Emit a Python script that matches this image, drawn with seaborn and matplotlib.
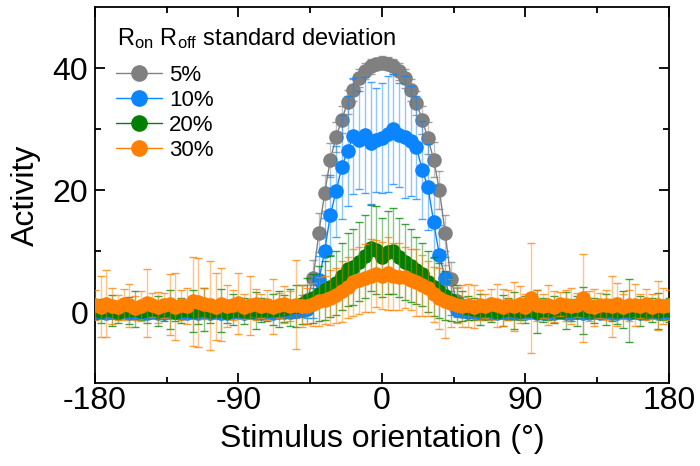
import numpy as np
import matplotlib
matplotlib.use("Agg")
import matplotlib.pyplot as plt
import seaborn as sns
from matplotlib.lines import Line2D

# Orientaciones del estímulo (101 puntos, paso de 3.6 grados)
orientacion = np.linspace(-180, 180, 101)

# Actividad media y desviación (filas de 10 puntos)
act_5 = [0.2, 0.3, 0.2, 0.1, 0.3, 0.2, 0.2, 0.4, 0.2, 0.1,
         0.3, 0.2, 0.2, 0.3, 0.1, 0.2, 0.4, 0.2, 0.3, 0.2,
         0.1, 0.2, 0.3, 0.2, 0.2, 0.4, 0.3, 0.2, 0.1, 0.3,
         0.2, 0.3, 0.3, 0.4, 0.5, 0.6, 1.0, 2.0, 5.6, 13.0,
         19.5, 25.0, 28.7, 31.5, 34.4, 36.4, 38.4, 39.5, 40.3, 40.7,
         40.9, 40.7, 40.3, 39.5, 38.3, 36.4, 34.3, 31.5, 28.5, 25.0,
         20.0, 13.0, 5.5, 1.8, 0.9, 0.6, 0.4, 0.3, 0.2, 0.3,
         0.2, 0.1, 0.3, 0.2, 0.2, 0.3, 0.2, 0.1, 0.2, 0.3,
         0.2, 0.2, 0.4, 0.2, 0.1, 0.3, 0.2, 0.2, 0.3, 0.2,
         0.1, 0.2, 0.3, 0.2, 0.2, 0.1, 0.3, 0.2, 0.2, 0.3,
         0.2]
err_5 = [0.8, 0.6, 0.9, 0.7, 0.8, 1.0, 0.6, 0.9, 0.7, 0.8,
         0.7, 0.9, 0.6, 0.8, 1.0, 0.7, 0.8, 0.6, 0.9, 0.7,
         0.8, 0.6, 0.9, 0.7, 1.0, 0.8, 0.7, 0.9, 0.6, 0.8,
         0.9, 0.7, 1.0, 0.8, 1.2, 1.5, 1.8, 2.5, 3.0, 3.2,
         3.0, 2.8, 2.5, 2.2, 2.0, 1.8, 1.5, 1.3, 1.2, 1.0,
         1.0, 1.1, 1.2, 1.4, 1.6, 1.8, 2.0, 2.3, 2.6, 2.9,
         3.1, 3.0, 2.8, 2.2, 1.6, 1.2, 1.0, 0.8, 0.9, 0.7,
         0.8, 0.6, 0.9, 0.7, 0.8, 1.0, 0.6, 0.9, 0.7, 0.8,
         0.7, 0.9, 0.6, 0.8, 1.0, 0.7, 0.8, 0.6, 0.9, 0.7,
         0.8, 0.6, 0.9, 0.7, 1.0, 0.8, 0.7, 0.9, 0.6, 0.8,
         0.7]

act_10 = [-0.1, 0.0, -0.2, 0.1, -0.1, 0.0, -0.2, -0.1, 0.0, -0.1,
          0.0, -0.2, -0.1, 0.1, 0.0, -0.1, -0.2, 0.0, -0.1, 0.0,
          -0.1, 0.0, -0.2, -0.1, 0.1, 0.0, -0.1, 0.0, -0.2, -0.1,
          0.0, -0.1, 0.0, 0.1, 0.1, 0.2, 0.3, 0.5, 1.5, 5.2,
          10.0, 15.9, 19.8, 23.8, 26.4, 28.9, 28.2, 29.0, 27.7, 28.2,
          28.5, 29.2, 30.0, 29.0, 28.7, 28.0, 27.0, 23.3, 20.5, 14.8,
          9.3, 5.6, 1.5, 0.4, 0.2, 0.1, 0.0, -0.1, 0.0, -0.2,
          -0.1, 0.0, -0.1, -0.2, 0.0, -0.1, 0.0, -0.2, -0.1, 0.0,
          -0.1, 0.0, -0.2, -0.1, 0.0, -0.1, -0.2, 0.0, -0.1, 0.0,
          -0.2, -0.1, 0.0, -0.1, 0.0, -0.2, -0.1, 0.0, -0.1, 0.0,
          -0.1]
err_10 = [0.6, 0.8, 0.5, 0.7, 0.9, 0.6, 0.8, 0.5, 0.7, 0.6,
          0.8, 0.5, 0.7, 0.9, 0.6, 0.8, 0.5, 0.7, 0.6, 0.8,
          0.5, 0.7, 0.9, 0.6, 0.8, 0.5, 0.7, 0.6, 0.8, 0.5,
          0.7, 0.6, 0.8, 0.9, 1.0, 0.8, 1.0, 1.5, 2.5, 4.0,
          5.5, 6.5, 7.5, 8.5, 9.0, 9.5, 8.0, 9.5, 10.0, 8.5,
          9.0, 9.5, 9.0, 8.5, 10.0, 9.0, 8.5, 8.0, 7.0, 6.0,
          5.0, 3.5, 2.0, 1.2, 0.8, 0.7, 0.6, 0.8, 0.5, 0.7,
          0.6, 0.8, 0.5, 0.7, 0.9, 0.6, 0.8, 0.5, 0.7, 0.6,
          0.8, 0.5, 0.7, 0.9, 0.6, 0.8, 0.5, 0.7, 0.6, 0.8,
          0.5, 0.7, 0.9, 0.6, 0.8, 0.5, 0.7, 0.6, 0.8, 0.5,
          0.7]

act_20 = [0.4, 0.2, 0.5, 0.3, 0.1, 0.4, 0.3, 0.5, 0.2, 0.3,
          0.4, 0.2, 0.3, 0.5, 0.1, 0.3, 0.4, 0.2, 0.3, 0.5,
          0.2, 0.4, 0.3, 0.1, 0.4, 0.3, 0.2, 0.5, 0.3, 0.4,
          0.3, 0.4, 0.5, 0.6, 0.8, 1.0, 1.3, 1.8, 2.3, 3.0,
          3.6, 4.2, 4.8, 5.9, 7.0, 7.4, 8.3, 9.2, 10.5, 10.2,
          9.0, 9.8, 10.0, 9.0, 8.2, 7.6, 6.9, 6.2, 5.0, 4.2,
          3.5, 2.7, 2.0, 1.4, 1.0, 0.7, 0.5, 0.4, 0.3, 0.4,
          0.2, 0.3, 0.5, 0.3, 0.2, 0.4, 0.3, 0.1, 0.4, 0.3,
          0.5, 0.2, 0.3, 0.4, 0.2, 0.3, 0.5, 0.3, 0.2, 0.4,
          0.3, 0.2, 0.4, 0.3, 0.5, 0.2, 0.3, 0.4, 0.2, 0.3,
          0.4]
err_20 = [1.5, 2.0, 1.2, 2.5, 1.8, 1.0, 2.2, 3.0, 1.5, 2.0,
          1.2, 2.5, 1.8, 3.2, 1.5, 2.0, 1.0, 3.5, 2.2, 3.5,
          2.0, 1.2, 3.5, 1.8, 2.5, 1.0, 2.2, 1.5, 3.0, 2.0,
          1.8, 2.5, 3.0, 2.2, 3.0, 3.5, 3.2, 3.8, 4.0, 4.5,
          4.8, 5.0, 5.2, 5.5, 6.0, 6.2, 6.5, 6.8, 7.0, 7.2,
          6.5, 6.8, 7.0, 6.5, 6.2, 6.0, 5.5, 5.2, 5.0, 4.8,
          4.5, 4.0, 3.5, 3.0, 2.5, 2.0, 1.8, 2.5, 1.5, 2.0,
          1.2, 2.5, 1.8, 3.0, 1.5, 2.2, 1.0, 3.5, 2.0, 1.5,
          2.2, 1.2, 3.0, 1.8, 2.5, 3.8, 1.5, 2.0, 1.0, 2.5,
          1.8, 2.2, 3.0, 5.2, 1.5, 2.5, 1.2, 2.0, 3.0, 1.5,
          2.0]

act_30 = [1.2, 0.9, 1.4, 1.0, 0.8, 1.3, 1.1, 0.7, 1.0, 1.5,
          1.2, 0.8, 1.1, 1.3, 0.9, 1.2, 1.0, 1.8, 1.6, 1.4,
          1.1, 0.9, 1.3, 1.0, 1.2, 1.5, 0.9, 1.1, 1.3, 1.0,
          1.2, 0.9, 1.1, 1.3, 1.0, 1.2, 1.0, 1.0, 1.3, 1.8,
          2.0, 2.4, 2.8, 3.4, 4.1, 4.9, 5.2, 5.6, 6.0, 6.3,
          6.0, 6.4, 5.9, 5.8, 5.7, 5.3, 4.9, 4.4, 3.9, 2.9,
          2.3, 1.8, 1.5, 1.2, 1.0, 1.1, 0.9, 1.2, 1.0, 1.3,
          1.1, 0.8, 1.2, 1.0, 1.3, 0.9, 2.3, 1.1, 1.0, 1.2,
          0.9, 1.3, 1.1, 1.0, 1.2, 2.3, 1.0, 0.8, 1.1, 1.2,
          1.0, 1.3, 0.9, 1.1, 1.2, 1.0, 1.3, 0.9, 1.1, 1.0,
          1.2]
err_30 = [2.5, 5.0, 5.5, 3.0, 2.0, 2.5, 3.5, 2.0, 2.5, 5.5,
          2.0, 2.5, 2.0, 5.0, 5.5, 2.5, 3.0, 7.3, 7.3, 2.5,
          7.3, 5.5, 6.0, 3.5, 2.5, 5.0, 2.0, 4.8, 2.5, 2.0,
          2.5, 4.5, 2.0, 3.0, 2.5, 7.3, 3.5, 3.0, 3.5, 4.0,
          4.0, 4.5, 4.5, 5.0, 5.0, 5.5, 5.5, 5.5, 6.0, 5.5,
          5.5, 6.0, 5.5, 5.5, 5.0, 5.0, 5.5, 5.0, 4.5, 4.5,
          5.0, 6.0, 4.0, 3.0, 3.5, 3.5, 3.5, 2.5, 2.0, 2.5,
          3.5, 3.0, 2.5, 4.0, 3.0, 2.0, 9.0, 2.5, 2.0, 3.3,
          2.5, 2.0, 2.5, 3.0, 2.0, 7.2, 2.5, 3.0, 2.0, 2.5,
          5.0, 3.5, 2.0, 2.5, 3.5, 2.0, 2.5, 2.0, 4.0, 3.0,
          2.5]

etiquetas = ["5%", "10%", "20%", "30%"]
colores = ["#808080", "#0A84FF", "#008000", "#FF8000"]
series = [(act_5, err_5), (act_10, err_10), (act_20, err_20), (act_30, err_30)]

sns.set_theme(style="ticks")
plt.rcParams["font.family"] = ["Liberation Sans", "DejaVu Sans"]
plt.rcParams["mathtext.fontset"] = "custom"
plt.rcParams["mathtext.rm"] = "Liberation Sans"
plt.rcParams["mathtext.it"] = "Liberation Sans:italic"
plt.rcParams["axes.unicode_minus"] = False
for clave in ["text.color", "axes.labelcolor", "xtick.color", "ytick.color",
              "axes.edgecolor"]:
    plt.rcParams[clave] = "black"

fig = plt.figure(figsize=(7, 4.66), dpi=100)
ax = fig.add_axes([95 / 700, 1 - 383 / 466, 574 / 700, 376 / 466])

z = 2
for (act, err), col in zip(series, colores):
    eb = ax.errorbar(orientacion, act, yerr=err, fmt="none", ecolor=col,
                     elinewidth=1, capsize=3, capthick=1, zorder=z)
    for c in eb[2]:
        c.set_alpha(0.45)
    for c in eb[1]:
        c.set_alpha(0.75)
    sns.lineplot(x=orientacion, y=act, color=col, marker="o", markersize=10.5,
                 markeredgewidth=0, linewidth=1, ax=ax, zorder=z + 1)
    z += 2

ax.set_xlim(-180, 180)
ax.set_ylim(-11.6, 50)
ax.set_xticks([-180, -90, 0, 90, 180])
ax.set_xticks([-135, -45, 45, 135], minor=True)
ax.set_yticks([0, 20, 40])
ax.set_yticks([10, 30], minor=True)
ax.tick_params(which="both", direction="in", top=True, right=True, width=1.3,
               labelsize=23)
ax.tick_params(axis="x", pad=2)
ax.tick_params(axis="y", pad=5)
ax.tick_params(which="major", length=7)
ax.tick_params(which="minor", length=4)
for s in ax.spines.values():
    s.set_linewidth(1.3)

ax.set_xlabel("Stimulus orientation (°)", fontsize=23, labelpad=6)
ax.set_ylabel("Activity", fontsize=23, labelpad=8)

# Título de la leyenda como texto aparte para controlar su posición
ax.text((117 - 95) / 574, (383 - 39) / 376,
        r"R$_{\rm on}$ R$_{\rm off}$ standard deviation",
        transform=ax.transAxes, fontsize=17, va="center", ha="left")

manejadores = [Line2D([0], [0], color=c, marker="o", markersize=12,
                      markeredgewidth=0, linewidth=1) for c in colores]
leg = ax.legend(manejadores, etiquetas,
                loc="upper left", bbox_to_anchor=(0.036, 0.846), frameon=False,
                fontsize=16, handlelength=2.1, handletextpad=0.3,
                labelspacing=0.18, borderaxespad=0, borderpad=0)

fig.savefig("out.png", dpi=100)
plt.close()
